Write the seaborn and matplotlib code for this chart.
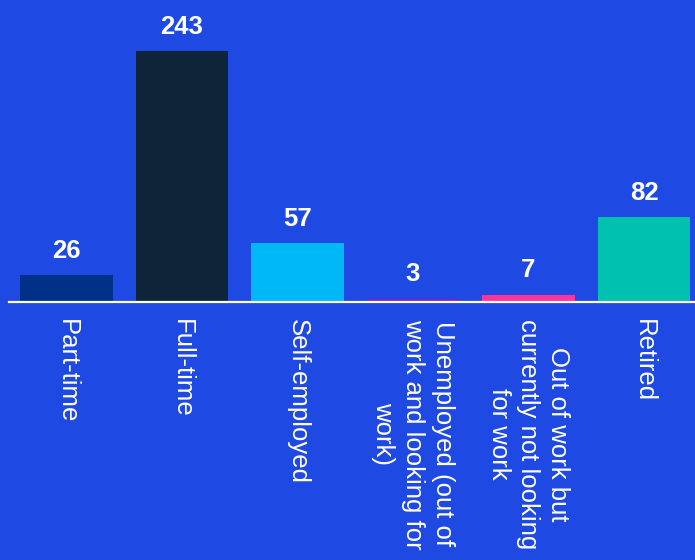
import numpy as np
import matplotlib.pyplot as plt
import seaborn as sns
import pandas as pd

# Employment status counts
categories = ['Part-time', 'Full-time', 'Self-employed',
              'Unemployed (out of\nwork and looking for\nwork)',
              'Out of work but\ncurrently not looking\nfor work',
              'Retired']
counts = [26, 243, 57, 3, 7, 82]
bar_colors = ['#003087', '#0E2439', '#00B8F5', '#7A1FD6', '#FF3399', '#00C0B0']

bg = '#1E49E2'

df = pd.DataFrame({'status': categories, 'count': counts})

sns.set_style("white")
plt.rcParams['font.family'] = ['Liberation Sans', 'DejaVu Sans']

fig = plt.figure(figsize=(6.95, 5.6), dpi=100, facecolor=bg)
# axes placed in pixel terms: baseline at y=302, top of tallest bar at y=51
ax = fig.add_axes([8.75 / 695, (560 - 302) / 560, 693 / 695, 251 / 560])
ax.set_facecolor(bg)

sns.barplot(data=df, x='status', y='count', hue='status', palette=bar_colors,
            legend=False, width=0.8, saturation=1, linewidth=0,
            edgecolor='none', ax=ax)

ax.set_ylim(0, 243)
ax.set_xlim(-0.5, 5.5)

# value labels above bars
for i, v in enumerate(counts):
    ax.annotate(str(v), (i, v), xytext=(0, 9), textcoords='offset points',
                ha='center', va='bottom', color='white', fontsize=18.5,
                fontweight='bold')

ax.set_xticks(range(len(categories)))
ax.set_xticklabels(categories, rotation=270, ha='center', va='top',
                   multialignment='center', linespacing=1.3,
                   color='white', fontsize=18.5)
ax.tick_params(axis='x', length=0, pad=12)
ax.set_yticks([])
ax.set_xlabel('')
ax.set_ylabel('')

for s in ['top', 'right', 'left']:
    ax.spines[s].set_visible(False)
ax.spines['bottom'].set_color('white')
ax.spines['bottom'].set_linewidth(1.6)

fig.savefig('out.png', dpi=100, facecolor=bg)
